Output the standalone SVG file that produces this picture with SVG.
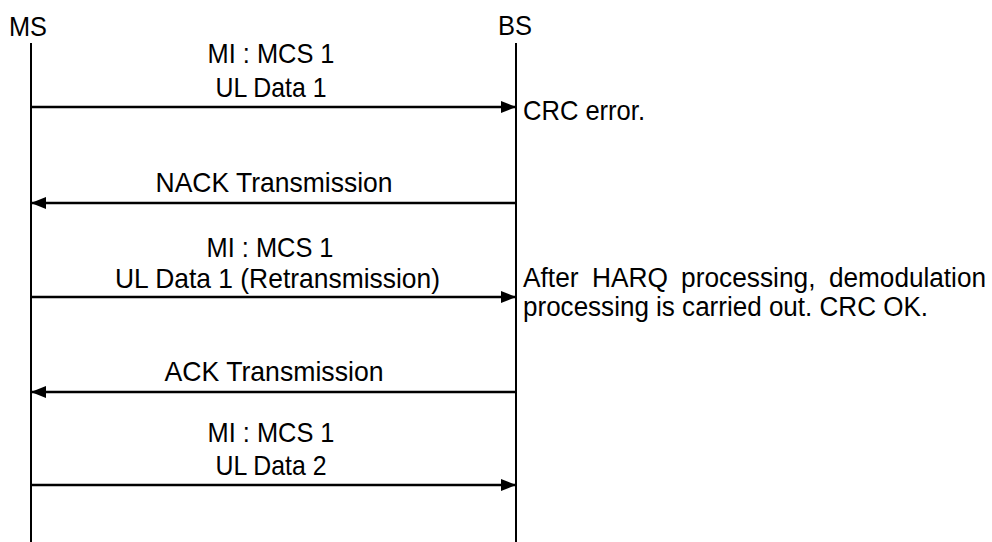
<svg xmlns="http://www.w3.org/2000/svg" width="992" height="542" viewBox="0 0 992 542">
<style>
text{font-family:"Liberation Sans",Arial,sans-serif;font-size:28px;fill:#000}
.c{text-anchor:middle}
.n{font-size:27px}
.life{stroke:#000;stroke-width:2;fill:none}
.msg{stroke:#000;stroke-width:2.5;fill:none;marker-end:url(#ah)}
</style>
<defs>
<marker id="ah" markerUnits="userSpaceOnUse" markerWidth="16" markerHeight="14" refX="15" refY="6" orient="auto">
<path d="M0,0 L15,6 L0,12 Z" fill="#000"/>
</marker>
</defs>
<rect width="992" height="542" fill="#fff"/>
<g id="MS">
<text x="9" y="36" textLength="38" lengthAdjust="spacingAndGlyphs">MS</text>
<line class="life" x1="31" y1="43" x2="31" y2="542"/>
</g>
<g id="BS">
<text x="498" y="35" textLength="34" lengthAdjust="spacingAndGlyphs">BS</text>
<line class="life" x1="516" y1="43" x2="516" y2="542"/>
</g>
<g id="connectors">
<line class="msg" x1="31" y1="107" x2="516" y2="107"/>
<line class="msg" x1="516" y1="203" x2="31" y2="203"/>
<line class="msg" x1="31" y1="297" x2="516" y2="297"/>
<line class="msg" x1="516" y1="392" x2="31" y2="392"/>
<line class="msg" x1="31" y1="485" x2="516" y2="485"/>
</g>
<g id="labels">
<text class="c" x="271" y="63" textLength="127" lengthAdjust="spacingAndGlyphs">MI : MCS 1</text>
<text class="c" x="271" y="97" textLength="111" lengthAdjust="spacingAndGlyphs">UL Data 1</text>
<text class="c" x="274" y="192" textLength="237" lengthAdjust="spacingAndGlyphs">NACK Transmission</text>
<text class="c" x="270" y="257" textLength="127" lengthAdjust="spacingAndGlyphs">MI : MCS 1</text>
<text class="c" x="277.5" y="288" textLength="325" lengthAdjust="spacingAndGlyphs">UL Data 1 (Retransmission)</text>
<text class="c" x="274" y="381" textLength="219" lengthAdjust="spacingAndGlyphs">ACK Transmission</text>
<text class="c" x="271" y="442" textLength="127" lengthAdjust="spacingAndGlyphs">MI : MCS 1</text>
<text class="c" x="271" y="475" textLength="111" lengthAdjust="spacingAndGlyphs">UL Data 2</text>
</g>
<g id="notes">
<text x="523" y="120" textLength="122" lengthAdjust="spacingAndGlyphs">CRC error.</text>
<text class="n" x="523" y="287" textLength="55.5" lengthAdjust="spacingAndGlyphs">After</text>
<text class="n" x="592" y="287" textLength="76" lengthAdjust="spacingAndGlyphs">HARQ</text>
<text class="n" x="681" y="287" textLength="134.5" lengthAdjust="spacingAndGlyphs">processing,</text>
<text class="n" x="829" y="287" textLength="157" lengthAdjust="spacingAndGlyphs">demodulation</text>
<text class="n" x="523" y="316" textLength="405" lengthAdjust="spacingAndGlyphs">processing is carried out. CRC OK.</text>
</g>
</svg>
